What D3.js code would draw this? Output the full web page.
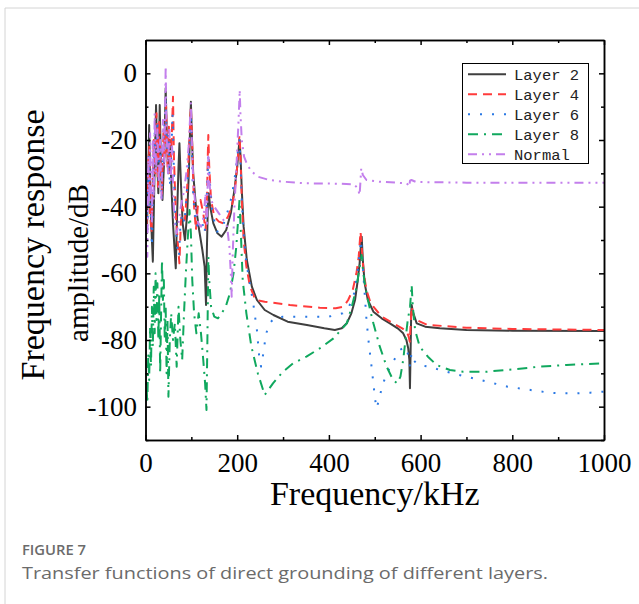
<!DOCTYPE html>
<meta charset="utf-8">
<style>
body { margin: 0; background: #fff; }
svg text { font-family: "Liberation Serif", "Times New Roman", serif; }
.axis path, .axis line { fill: none; stroke: #000; stroke-width: 1.5px; }
.legend text { font-family: "Liberation Mono", monospace; font-size: 15.5px; fill: #222; }
.caption { font-family: "Open Sans", "Noto Sans", sans-serif; fill: #6b6b6b; }
</style>
<body>
<svg id="chart" width="639" height="604"></svg>
<script src="https://d3js.org/d3.v7.min.js"></script>
<script>

// values: [frequency kHz, amplitude dB]
var layer2 = [[0,-42],[3,-48],[6,-30],[8,-15.5],[11,-40],[14,-50],[16,-56.5],[19,-35],[23,-9.5],[26,-28],[28,-36],[31,-9.5],[34,-30],[37,-38],[41,-25],[44,-4.5],[47,-22],[50,-30],[53,-20],[56,-32],[60,-45],[63,-52],[66,-58.5],[69,-42],[72,-28],[74,-21],[77,-32],[81,-45],[86,-50],[91,-42],[95,-28],[97.5,-15],[99,-8.5],[101,-18],[104,-30],[110,-40],[117,-47],[124,-53],[129,-58],[132,-69.5],[134,-52],[136,-40],[138,-36],[141,-40],[148,-45],[157,-48],[166,-49],[176,-47],[186,-42],[194,-35],[200,-28],[203,-23],[205,-20],[207,-24],[210,-35],[214,-46],[221,-56],[232,-64],[243,-68],[260,-71],[279,-72.5],[310,-74.5],[352,-75.5],[390,-76.5],[413,-77],[428,-76.5],[439,-75],[449,-72],[457,-68],[463,-62],[467,-57],[470,-51],[471.5,-49],[474,-56],[478,-63],[485,-68],[497,-71.5],[515,-73.5],[533,-75],[550,-76.5],[562,-78],[569,-80],[573,-82.5],[575.5,-86],[576.8,-94.5],[578,-85],[579.5,-72],[580.5,-69.5],[583,-71.5],[591.5,-75],[610,-76],[642,-76.5],[700,-77],[800,-77.2],[1000,-77.3]];

var layer4 = [[0,-38],[2,-46],[5,-30],[8,-22],[10,-42],[13,-48],[15,-38],[18,-20],[21,-30],[24,-12],[27,-34],[30,-14],[33,-28],[36,-36],[39,-18],[42,-25],[45,-10],[48,-28],[51,-16],[54,-30],[57,-20],[60,-7],[62,-25],[66,-42],[70,-50],[74,-57],[77,-45],[81,-40],[86,-44],[91,-34],[95,-22],[99,-10],[102,-22],[106,-40],[110,-47],[114,-40],[120,-38],[126,-42],[131,-47],[134,-38],[136,-24],[137,-18.5],[139,-28],[143,-38],[150,-43],[160,-44.5],[170,-45],[180,-43],[188,-40],[195,-35],[200,-28],[203,-22],[205,-18.5],[207,-24],[210,-38],[214,-50],[220,-58],[228,-64],[240,-68],[260,-68.5],[315,-69.5],[380,-70.3],[415,-70.5],[432,-70],[442,-68],[452,-65],[460,-60],[465,-55],[469,-47.5],[472,-53],[476,-60],[482,-65],[490,-68.5],[497,-70],[515,-73],[540,-75],[560,-76.5],[570,-77.5],[574,-79],[576.5,-80.5],[578,-76],[580.5,-70],[584,-72.5],[591,-74],[615,-75.5],[650,-75.8],[700,-76.3],[800,-76.7],[1000,-77]];

var layer6 = [[0,-45],[2,-38],[4,-48],[7,-25],[9,-32],[12,-44],[14,-52],[17,-30],[20,-18],[23,-26],[26,-14],[29,-30],[32,-20],[35,-38],[38,-24],[41,-16],[44,-8],[47,-24],[50,-18],[53,-34],[56,-26],[59,-12],[62,-30],[65,-44],[69,-52],[73,-55],[76,-46],[80,-42],[85,-45],[90,-36],[95,-24],[99,-12],[101,-22],[103,-34],[107,-42],[112,-46],[118,-44],[124,-45],[129,-48],[133,-40],[136,-28],[137.5,-24],[140,-32],[146,-42],[156,-47.5],[166,-47],[178,-42],[188,-37],[196,-30],[201,-24],[205,-20],[207,-26],[210,-38],[214,-48],[220,-57],[235,-69],[243,-77],[248,-85],[252,-88],[257,-84],[262,-79],[268,-75.5],[280,-73.5],[300,-73],[350,-73],[400,-73],[430,-72],[444,-70],[455,-66],[462,-60],[467,-54],[470,-50],[473,-56],[477,-64],[482,-74],[487,-81],[493,-88],[497,-93],[501,-98],[504,-100.5],[509,-98],[516,-94],[526,-90],[540,-86.5],[555,-83],[566,-82],[572,-84],[577,-88],[580,-84],[584,-86],[595,-87.5],[620,-88],[642,-89],[670,-90],[700,-91],[730,-92],[760,-93],[790,-94],[820,-94.6],[850,-95.2],[880,-95.8],[910,-96],[940,-96],[970,-95.8],[1000,-95.5]];

var layer8 = [[0,-98],[2,-93],[4,-99],[6,-84],[8,-92],[10,-76],[12,-88],[14,-70],[16,-82],[18,-64],[20,-78],[22,-60],[24,-74],[26,-63],[28,-80],[30,-66],[32,-90],[34,-72],[36,-56],[38,-68],[40,-62],[42,-80],[44,-70],[46,-90],[48,-74],[50,-97],[53,-80],[56,-72],[60,-80],[64,-75],[68,-88],[72,-70],[76,-80],[80,-86],[84,-72],[88,-60],[92,-50],[96,-41],[99,-48],[102,-62],[106,-72],[111,-78],[116,-72],[121,-78],[126,-86],[130,-93],[133,-101],[135,-80],[137,-55],[139,-62],[143,-70],[150,-73],[158,-73.5],[166,-72],[175,-70],[184,-66],[192,-60],[198,-52],[202,-44],[205,-38],[208,-48],[212,-62],[220,-72],[231,-82],[245,-90],[260,-96.5],[278,-93],[300,-89.5],[322,-87],[351,-85],[380,-82.5],[410,-79.5],[439,-75],[450,-70],[460.5,-64],[466,-59],[471.5,-54.5],[475,-60],[482,-66],[490,-71],[497,-75],[511,-82],[526,-88],[540,-92],[549,-93],[556,-91],[562,-86],[567,-80],[572,-74],[577,-70],[580.5,-63.5],[583,-70],[588,-77],[598,-82],[616,-85],[635,-87.5],[664,-89],[693,-89.5],[745,-89.5],[802,-88.8],[860,-88],[918,-87.5],[1000,-87]];

var normal = [[0,-50],[2,-35],[4,-55],[6,-25],[8,-40],[10,-18],[12,-35],[14,-45],[16,-20],[18,-38],[20,-12],[23,-30],[26,-16],[29,-34],[32,-20],[35,-38],[38,-14],[41,-28],[44,2],[46,-18],[49,-30],[52,-16],[55,-32],[58,-22],[61,-38],[64,-46],[68,-48],[72,-45],[77,-40],[83,-36],[89,-30],[94,-22],[97,-14],[99,-9],[101,-20],[104,-32],[109,-40],[115,-45],[121,-46],[127,-43],[131,-36],[134,-46],[135.5,-34],[137,-25],[139,-32],[143,-38],[150,-40],[160,-42],[170,-44],[178,-46],[183,-52],[186,-60],[188,-67],[190,-55],[194,-40],[199,-26],[203,-14],[205.5,-5],[207,-12],[210,-20],[215,-25],[222,-27.5],[232,-29.5],[245,-31],[270,-32],[300,-32.5],[350,-33],[420,-33.1],[455,-33.3],[463,-34.5],[467,-36.5],[469,-32],[470.5,-28.5],[474,-30.5],[482,-32],[510,-32.5],[570,-33],[575,-34],[577,-32.2],[580,-32],[590,-32.6],[700,-32.8],[1000,-32.8]];

var seriesNames = ["Layer 2", "Layer 4", "Layer 6", "Layer 8", "Normal"];
var xMajor = [0, 200, 400, 600, 800, 1000];
var xMinor = [100, 300, 500, 700, 900];
var yMajor = [0, -20, -40, -60, -80, -100];
var yMinor = [-10, -30, -50, -70, -90, -110];

var series = [
  {name: seriesNames[0], data: layer2, color: "#3f3f3f", dash: null},
  {name: seriesNames[1], data: layer4, color: "#ff3b3b", dash: "9,6"},
  {name: seriesNames[2], data: layer6, color: "#2a78e4", dash: "2,10"},
  {name: seriesNames[3], data: layer8, color: "#10a85e", dash: "10,6,2,6"},
  {name: seriesNames[4], data: normal, color: "#c37fec", dash: "9,5,2,5,2,5"}
];

var plot = {left: 145.5, right: 604, top: 40, bottom: 440};

var svg = d3.select("#chart");

// light frame of the figure panel
svg.append("path")
  .attr("d", "M5,604 L5,8 L639,8")
  .attr("fill", "none")
  .attr("stroke", "#d4d4d4")
  .attr("stroke-width", 1);

var x = d3.scaleLinear().domain([0, 1000]).range([plot.left, plot.right]);
var y = d3.scaleLinear().domain([-110, 10]).range([plot.bottom, plot.top]);

// plain hyphen minus and no thousands separator, as in the figure
var plainFormat = function(d) { return String(d); };

svg.append("clipPath").attr("id", "clip")
  .append("rect")
  .attr("x", plot.left).attr("y", plot.top)
  .attr("width", plot.right - plot.left).attr("height", plot.bottom - plot.top);

var line = d3.line()
  .x(function(d) { return x(d[0]); })
  .y(function(d) { return y(d[1]); });

var lines = svg.append("g").attr("clip-path", "url(#clip)");
series.forEach(function(s) {
  lines.append("path")
    .datum(s.data)
    .attr("fill", "none")
    .attr("stroke", s.color)
    .attr("stroke-width", 2)
    .attr("stroke-linejoin", "round")
    .attr("stroke-dasharray", s.dash)
    .attr("d", line);
});

// axes, ticks pointing inward on all four sides
function styleAxis(g) {
  g.selectAll("text").style("font-size", "27px").style("fill", "#000");
}

svg.append("g").attr("class", "axis")
  .attr("transform", "translate(0," + plot.bottom + ")")
  .call(d3.axisBottom(x).tickValues(xMajor).tickSize(-5).tickSizeOuter(0).tickPadding(12.5).tickFormat(plainFormat))
  .call(styleAxis);
svg.append("g").attr("class", "axis")
  .attr("transform", "translate(0," + plot.bottom + ")")
  .call(d3.axisBottom(x).tickValues(xMinor).tickSize(-3).tickSizeOuter(0).tickFormat(""));
svg.append("g").attr("class", "axis")
  .attr("transform", "translate(0," + plot.top + ")")
  .call(d3.axisTop(x).tickValues(xMajor).tickSize(-5).tickSizeOuter(0).tickFormat(""));
svg.append("g").attr("class", "axis")
  .attr("transform", "translate(0," + plot.top + ")")
  .call(d3.axisTop(x).tickValues(xMinor).tickSize(-3).tickSizeOuter(0).tickFormat(""));

svg.append("g").attr("class", "axis")
  .attr("transform", "translate(" + plot.left + ",0)")
  .call(d3.axisLeft(y).tickValues(yMajor).tickSize(-5).tickSizeOuter(0).tickPadding(8.5).tickFormat(plainFormat))
  .call(styleAxis);
svg.append("g").attr("class", "axis")
  .attr("transform", "translate(" + plot.left + ",0)")
  .call(d3.axisLeft(y).tickValues(yMinor).tickSize(-3).tickSizeOuter(0).tickFormat(""));
svg.append("g").attr("class", "axis")
  .attr("transform", "translate(" + plot.right + ",0)")
  .call(d3.axisRight(y).tickValues(yMajor).tickSize(-5).tickSizeOuter(0).tickFormat(""));
svg.append("g").attr("class", "axis")
  .attr("transform", "translate(" + plot.right + ",0)")
  .call(d3.axisRight(y).tickValues(yMinor).tickSize(-3).tickSizeOuter(0).tickFormat(""));

svg.selectAll(".axis text").attr("font-family", "Liberation Serif");

// axis titles
svg.append("text")
  .attr("x", (plot.left + plot.right) / 2)
  .attr("y", 505)
  .attr("text-anchor", "middle")
  .style("font-size", "34px")
  .text("Frequency/kHz");

svg.append("text")
  .attr("transform", "translate(44,245) rotate(-90)")
  .attr("text-anchor", "middle")
  .style("font-size", "34px")
  .text("Frequency response");
svg.append("text")
  .attr("transform", "translate(88,263) rotate(-90)")
  .attr("text-anchor", "middle")
  .style("font-size", "29px")
  .text("amplitude/dB");

// legend
var legend = svg.append("g").attr("class", "legend");
legend.append("rect")
  .attr("x", 462.5).attr("y", 63.5)
  .attr("width", 126).attr("height", 100)
  .attr("fill", "#fff").attr("stroke", "#000").attr("stroke-width", 1);
series.forEach(function(s, i) {
  var ry = 74.3 + i * 20;
  legend.append("line")
    .attr("x1", 468).attr("x2", 506)
    .attr("y1", ry).attr("y2", ry)
    .attr("stroke", s.color).attr("stroke-width", 2)
    .attr("stroke-dasharray", s.dash);
  legend.append("text")
    .attr("x", 514).attr("y", ry + 5.5)
    .text(s.name);
});

// caption
svg.append("text").attr("class", "caption")
  .attr("x", 22).attr("y", 555)
  .attr("textLength", 64).attr("lengthAdjust", "spacingAndGlyphs")
  .style("font-size", "13.5px").style("font-weight", 600)
  .text("FIGURE 7");
svg.append("text").attr("class", "caption")
  .attr("x", 22).attr("y", 579)
  .attr("textLength", 526).attr("lengthAdjust", "spacingAndGlyphs")
  .style("font-size", "17px")
  .text("Transfer functions of direct grounding of different layers.");

</script>
